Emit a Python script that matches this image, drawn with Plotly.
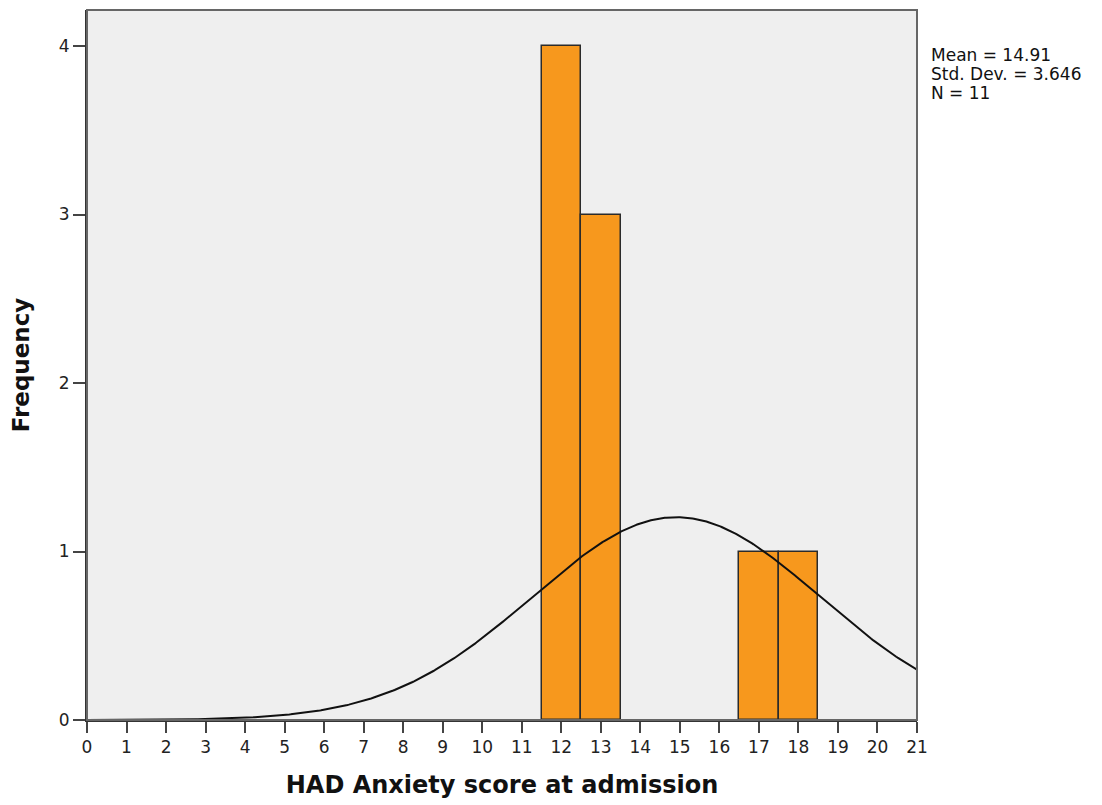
import numpy as np
import plotly.graph_objects as go

# Data
scores = [12, 13, 17, 18]
frequency = [4, 3, 1, 1]
mean_val = 14.91
std_dev = 3.646
n_obs = 11
bin_width = 1
x_ticks = list(range(0, 22))
y_ticks = [0, 1, 2, 3, 4]
stats_lines = ["Mean = 14.91", "Std. Dev. = 3.646", "N = 11"]

# Normal curve fitted from the displayed statistics
curve_x = np.linspace(0, 21, 600)
curve_y = n_obs * bin_width / (std_dev * np.sqrt(2 * np.pi)) * np.exp(-0.5 * ((curve_x - mean_val) / std_dev) ** 2)

W, H = 1102, 805
OFF = 8  # page body offset
PL, PR, PT, PB = 87, 917, 10, 720  # target plot box in window pixels
L = PL - OFF
T = PT - OFF
R = W - L - (PR - PL)
B = H - T - (PB - PT)
plot_w = PR - PL
plot_h = PB - PT

fig = go.Figure()
fig.add_trace(go.Bar(
    x=scores, y=frequency, width=bin_width,
    marker=dict(color="#F7981D", line=dict(color="#2b2b2b", width=1.5)),
    hoverinfo="x+y", showlegend=False,
))
fig.add_trace(go.Scatter(
    x=curve_x, y=curve_y, mode="lines",
    line=dict(color="#111111", width=2), showlegend=False, hoverinfo="skip",
))

font_family = "DejaVu Sans, sans-serif"
fig.update_layout(
    width=W, height=H,
    margin=dict(l=L, r=R, t=T, b=B, autoexpand=False),
    paper_bgcolor="white",
    plot_bgcolor="#EFEFEF",
    bargap=0,
    font=dict(family=font_family, color="#222222"),
    xaxis=dict(
        range=[0, 21], tickmode="array", tickvals=x_ticks,
        ticktext=[str(v) for v in x_ticks],
        ticks="outside", ticklen=11, tickwidth=2, tickcolor="#444444",
        showgrid=False, zeroline=False,
        showline=True, linecolor="#333333", linewidth=2,
        tickfont=dict(size=17, family=font_family, color="#222222"),
        title=dict(text="<b>HAD Anxiety score at admission</b>",
                   font=dict(size=24, family=font_family, color="#111111"),
                   standoff=20),
        automargin=False,
    ),
    yaxis=dict(
        range=[0, plot_h / 168.5], tickmode="array", tickvals=y_ticks,
        ticks="outside", ticklen=12, tickwidth=2, tickcolor="#444444",
        showgrid=False, zeroline=False,
        showline=True, linecolor="#333333", linewidth=2,
        tickfont=dict(size=17, family=font_family, color="#222222"),
        title=dict(text="<b>Frequency</b>",
                   font=dict(size=23, family=font_family, color="#111111"),
                   standoff=24),
        automargin=False,
    ),
    shapes=[dict(type="rect", xref="paper", yref="paper", x0=0, x1=1, y0=0, y1=1,
                 line=dict(color="#666666", width=2), fillcolor="rgba(0,0,0,0)", layer="above")],
)

for i, txt in enumerate(stats_lines):
    pix_y = 55 + i * 19
    fig.add_annotation(
        text=txt, xref="paper", yref="paper",
        x=(929 - PL) / plot_w, y=(PB - pix_y) / plot_h,
        xanchor="left", yanchor="middle", showarrow=False,
        font=dict(size=17, family=font_family, color="#111111"),
    )

fig.write_html("out.html")
